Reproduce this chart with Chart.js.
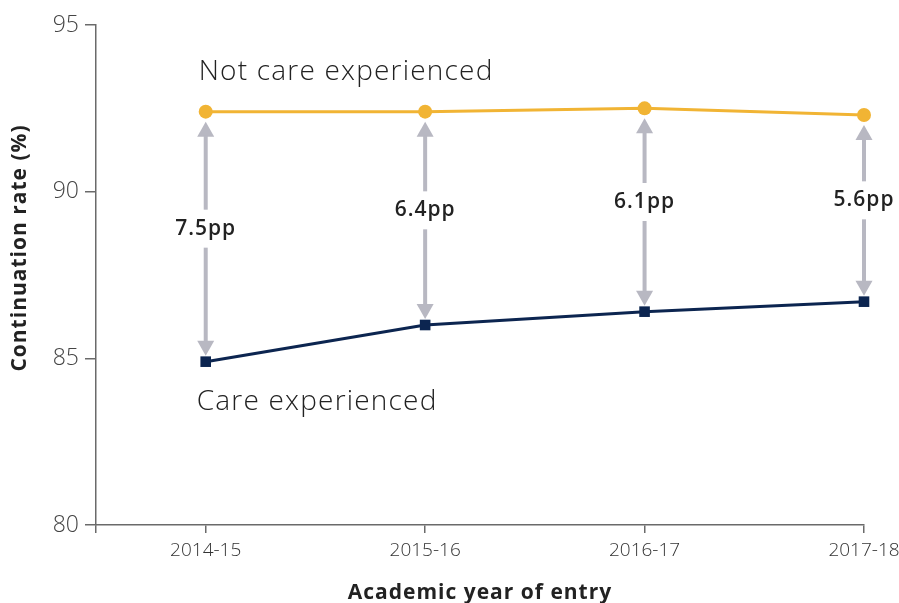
<!DOCTYPE html>
<html>
<head>
<meta charset="utf-8">
<script src="https://cdn.jsdelivr.net/npm/chart.js@4/dist/chart.umd.min.js"></script>
<style>
html,body{margin:0;padding:0;background:#fff;}
#wrap{width:899px;height:603px;position:relative;}
</style>
</head>
<body>
<div id="wrap"><canvas id="c"></canvas></div>
<script>
const categories = ['2014-15', '2015-16', '2016-17', '2017-18'];
const notCareExperienced = [92.4, 92.4, 92.5, 92.3];
const careExperienced = [84.9, 86.0, 86.4, 86.7];
const yTicks = [80, 85, 90, 95];
const seriesNames = ['Not care experienced', 'Care experienced'];
const yTitle = 'Continuation rate (%)';
const xTitle = 'Academic year of entry';

const FONT = "'Open Sans', 'Noto Sans', sans-serif";
const ORANGE = '#F1B434';
const NAVY = '#0C2550';
const GREY = '#B8B8C2';
const AXIS = '#6a6a6a';

const toPts = arr => arr.map((v, i) => ({x: i, y: v}));

const annot = {
  id: 'annot',
  afterDatasetsDraw(chart) {
    const ctx = chart.ctx;
    const xs = chart.scales.x, ys = chart.scales.y;
    ctx.save();
    // gap arrows
    for (let i = 0; i < categories.length; i++) {
      const x = xs.getPixelForValue(i);
      const yT = ys.getPixelForValue(notCareExperienced[i]) + 10;
      const yB = ys.getPixelForValue(careExperienced[i]) - 6;
      const yL = (yT + yB) / 2 - 10;
      const hw = 8.5, hh = 15;
      ctx.fillStyle = GREY;
      ctx.beginPath();
      ctx.moveTo(x, yT); ctx.lineTo(x - hw, yT + hh); ctx.lineTo(x + hw, yT + hh); ctx.closePath(); ctx.fill();
      ctx.beginPath();
      ctx.moveTo(x, yB); ctx.lineTo(x - hw, yB - hh); ctx.lineTo(x + hw, yB - hh); ctx.closePath(); ctx.fill();
      ctx.fillRect(x - 2, yT + hh - 1, 4, (yL - 19) - (yT + hh - 1));
      ctx.fillRect(x - 2, yL + 19, 4, (yB - hh + 1) - (yL + 19));
      ctx.fillStyle = '#222';
      ctx.font = "600 21px " + FONT;
      ctx.letterSpacing = '1px';
      ctx.textAlign = 'center';
      ctx.textBaseline = 'middle';
      const d = (notCareExperienced[i] - careExperienced[i]).toFixed(1) + 'pp';
      ctx.fillText(d, x, yL);
    }
    // series labels
    ctx.fillStyle = '#222';
    ctx.font = "300 28px " + FONT;
    ctx.letterSpacing = '1.2px';
    ctx.textAlign = 'left';
    ctx.textBaseline = 'middle';
    ctx.fillText(seriesNames[0], xs.getPixelForValue(0) - 7, ys.getPixelForValue(93.6));
    ctx.fillText(seriesNames[1], xs.getPixelForValue(0) - 9, ys.getPixelForValue(83.7));
    // axis titles
    ctx.font = "bold 21px " + FONT;
    ctx.letterSpacing = '1px';
    ctx.textAlign = 'center';
    ctx.fillText(xTitle, (chart.chartArea.left + chart.chartArea.right) / 2, 593);
    ctx.translate(20, 248);
    ctx.rotate(-Math.PI / 2);
    ctx.fillText(yTitle, 0, 0);
    ctx.restore();
  }
};

new Chart(document.getElementById('c'), {
  type: 'line',
  data: {
    datasets: [
      {
        label: seriesNames[0],
        data: toPts(notCareExperienced),
        borderColor: ORANGE,
        backgroundColor: ORANGE,
        borderWidth: 3,
        pointStyle: 'circle',
        pointRadius: 7,
        pointBorderWidth: 0,
        tension: 0,
        clip: false
      },
      {
        label: seriesNames[1],
        data: toPts(careExperienced),
        borderColor: NAVY,
        backgroundColor: NAVY,
        borderWidth: 3,
        pointStyle: 'rect',
        pointRadius: 7.5,
        pointBorderWidth: 0,
        tension: 0,
        clip: false
      }
    ]
  },
  options: {
    responsive: true,
    maintainAspectRatio: false,
    animation: false,
    events: [],
    layout: {padding: {top: 25, left: 0, right: 0, bottom: 0}},
    plugins: {legend: {display: false}, tooltip: {enabled: false}},
    scales: {
      x: {
        type: 'linear',
        min: -0.5,
        max: categories.length - 1,
        afterBuildTicks: s => { s.ticks = [-0.5].concat(categories.map((c, i) => i)).map(v => ({value: v})); },
        afterFit: s => { s.height = 78; s.paddingRight = 35; s.paddingLeft = 0; },
        ticks: {
          callback: v => (Number.isInteger(v) ? categories[v] : ''),
          color: '#333',
          font: {family: FONT, size: 19, weight: '300'},
          padding: 6,
          maxRotation: 0,
          autoSkip: false
        },
        grid: {drawOnChartArea: false, tickLength: 8, color: AXIS, lineWidth: 1.5},
        border: {color: AXIS, width: 1.5}
      },
      y: {
        min: 80,
        max: 95,
        afterBuildTicks: s => { s.ticks = yTicks.map(v => ({value: v})); },
        afterFit: s => { s.width = 96; },
        ticks: {
          color: '#444',
          font: {family: FONT, size: 23, weight: '300'},
          padding: 6
        },
        grid: {drawOnChartArea: false, tickLength: 11, color: AXIS, lineWidth: 1.5},
        border: {color: AXIS, width: 1.5}
      }
    }
  },
  plugins: [annot]
});
</script>
</body>
</html>
